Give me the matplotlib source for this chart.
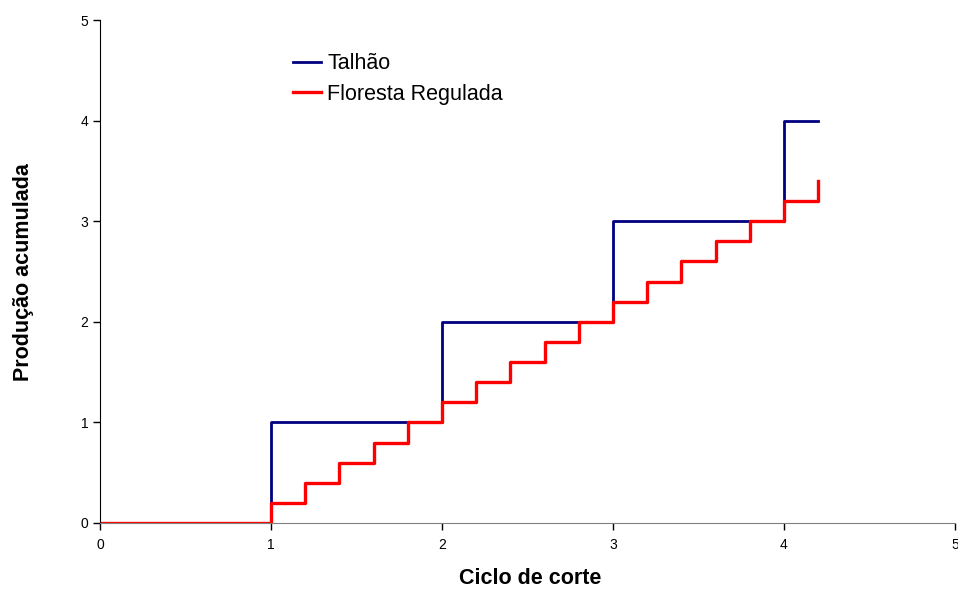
import matplotlib
matplotlib.use("Agg")
import matplotlib.pyplot as plt

plt.rcParams['font.family'] = ['Liberation Sans', 'DejaVu Sans']

talhao_x = [0, 1, 2, 3, 4, 4.2]
talhao_y = [0, 1, 2, 3, 4, 4]

floresta_x = [0, 1.0, 1.2, 1.4, 1.6, 1.8, 2.0, 2.2, 2.4, 2.6, 2.8, 3.0, 3.2, 3.4, 3.6, 3.8, 4.0, 4.2]
floresta_y = [0, 0.2, 0.4, 0.6, 0.8, 1.0, 1.2, 1.4, 1.6, 1.8, 2.0, 2.2, 2.4, 2.6, 2.8, 3.0, 3.2, 3.4]

ticks = [0, 1, 2, 3, 4, 5]

fig = plt.figure(figsize=(9.58, 5.9), dpi=100)
ax = fig.add_axes([100/958, 1-523/590, 855/958, 503/590])

ax.plot(talhao_x, talhao_y, drawstyle='steps-post', color='#000080', lw=2, label='Talhão')
ax.plot(floresta_x, floresta_y, drawstyle='steps-post', color='#ff0000', lw=2.4, label='Floresta Regulada')

ax.set_xlim(0, 5)
ax.set_ylim(0, 5)
ax.set_xticks(ticks)
ax.set_yticks(ticks)
ax.spines['top'].set_visible(False)
ax.spines['right'].set_visible(False)
ax.spines['bottom'].set_color('#808080')
ax.spines['left'].set_color('black')
ax.tick_params(direction='out', length=5, labelsize=10, width=1)
ax.tick_params(axis='x', pad=6)
ax.set_xlabel('Ciclo de corte', fontsize=15.5, fontweight='bold')
ax.set_ylabel('Produção acumulada', fontsize=15.5, fontweight='bold')
ax.xaxis.set_label_coords((530-100)/855, (523-578)/503, transform=ax.transAxes)
ax.yaxis.set_label_coords((24-100)/855, (523-272)/503, transform=ax.transAxes)
ax.xaxis.label.set_va('center')
ax.yaxis.label.set_va('center')

ax.legend(loc='upper left', bbox_to_anchor=(0.203, 0.972), frameon=False, fontsize=15.5,
          handlelength=1.3, handletextpad=0.3, labelspacing=0.42)

fig.savefig('out.png', dpi=100)
